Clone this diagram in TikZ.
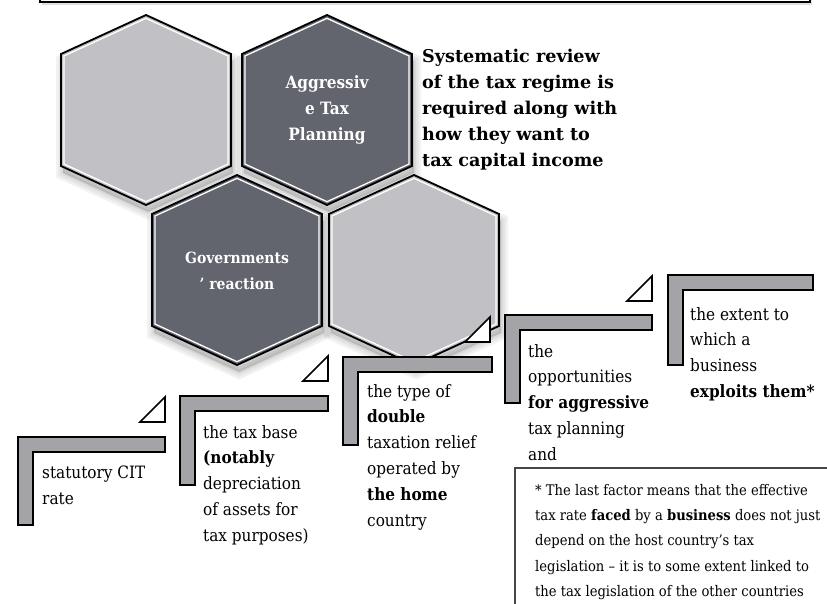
\documentclass[tikz,border=0pt]{standalone}
\usepackage{fontspec}
\setmainfont{DejaVu Serif Condensed}
\newfontfamily\widefont{DejaVu Serif}
\definecolor{hexlight}{RGB}{193,193,197}
\definecolor{hexdark}{RGB}{99,101,110}
\definecolor{barfill}{RGB}{163,163,168}
\definecolor{boxline}{RGB}{70,70,74}

% hexagon outline centred on the current origin
\newcommand\hexshape[1]{\path[#1] (0,-95)--(85,-56)--(85,56)--(0,95)--(-85,56)--(-85,-56)--cycle;}
% bevelled hexagon with a soft drop shadow: centre x, centre y, fill colour
\newcommand\hexcell[3]{%
  \begin{scope}[shift={(#1,#2)}]
    \foreach \w in {14,9,4}{\hexshape{fill=black,draw=black,line width=\w pt,opacity=0.05,shift={(2,7)}}}
    \hexshape{fill=#3,draw=black,line width=1.8pt}
    \hexshape{draw=white,line width=1.3pt,scale=0.965}
  \end{scope}}
% grey L-shaped bracket: corner x, corner y, right end x, bottom y
\newcommand\lbar[4]{%
  \path[draw=black,line width=1.6pt,fill=barfill,line join=miter]
    (#1,#2) -- (#3,#2) -- (#3,#2+15) -- (#1+15,#2+15) -- (#1+15,#4) -- (#1,#4) -- cycle;}
% small white corner triangle: right x, bottom y
\newcommand\flagtri[2]{%
  \path[draw=black,line width=1.6pt,fill=white,line join=miter]
    (#1-25,#2) -- (#1,#2) -- (#1,#2-25) -- cycle;}

\tikzset{
  hextext/.style={text=white,font=\bfseries\fontsize{17}{26}\selectfont,align=center,inner sep=0pt},
  bodytext/.style={font=\fontsize{17}{25.8}\selectfont,align=left,inner sep=0pt,anchor=north west},
  sidetext/.style={font=\widefont\bfseries\fontsize{17.6}{26}\selectfont,align=left,inner sep=0pt,anchor=north west},
  notetext/.style={font=\fontsize{14.6}{25.3}\selectfont,align=left,inner sep=0pt,anchor=north west}
}

\begin{document}
\begin{tikzpicture}[x=1pt,y=-1pt]
\useasboundingbox (0,0) rectangle (827,603);

% frame edge at the top
\fill[black,opacity=0.12] (42,-10) rectangle (812,5);
\path[draw=black,line width=2.5pt,fill=white] (40,-10) rectangle (810,2);

% honeycomb
\hexcell{146}{110}{hexlight}
\hexcell{327}{110}{hexdark}
\hexcell{237}{270}{hexdark}
\hexcell{414}{270}{hexlight}

\node[hextext] (atp) at (327,110) {Aggressiv\\e Tax\\Planning};
\node[hextext,font=\bfseries\fontsize{15.5}{26}\selectfont] (gov) at (237,271) {Governments\\’ reaction};

\node[sidetext] (review) at (422,49) {Systematic review\\of the tax regime is\\required along with\\how they want to\\tax capital income};

% staircase of factors
\lbar{18}{437}{165}{525}
\lbar{180}{396}{328}{485}
\lbar{343}{357}{492}{445}
\lbar{505}{315}{652}{403}
\lbar{668}{275}{813}{365}

\flagtri{165}{422}
\flagtri{328}{381}
\flagtri{490}{342}
\flagtri{652}{301}

\node[bodytext] (cit) at (42,466) {statutory CIT\\rate};
\node[bodytext] (base) at (203,425) {the tax base\\\textbf{(notably}\\depreciation\\of assets for\\tax purposes)};
\node[bodytext] (relief) at (367,384) {the type of\\\textbf{double}\\taxation relief\\operated by\\\textbf{the home}\\country};
\node[bodytext] (opp) at (528,344) {the\\opportunities\\\textbf{for aggressive}\\tax planning\\and};
\node[bodytext] (extent) at (690,307) {the extent to\\which a\\business\\\textbf{exploits them*}};

% footnote box
\path[draw=boxline,line width=2pt] (835,468) -- (515,468) -- (515,610);
\node[notetext] (note) at (535,484) {* The last factor means that the effective\\tax rate \textbf{faced} by a \textbf{business} does not just\\depend on the host country's tax\\legislation -- it is to some extent linked to\\the tax legislation of the other countries};
\end{tikzpicture}
\end{document}
